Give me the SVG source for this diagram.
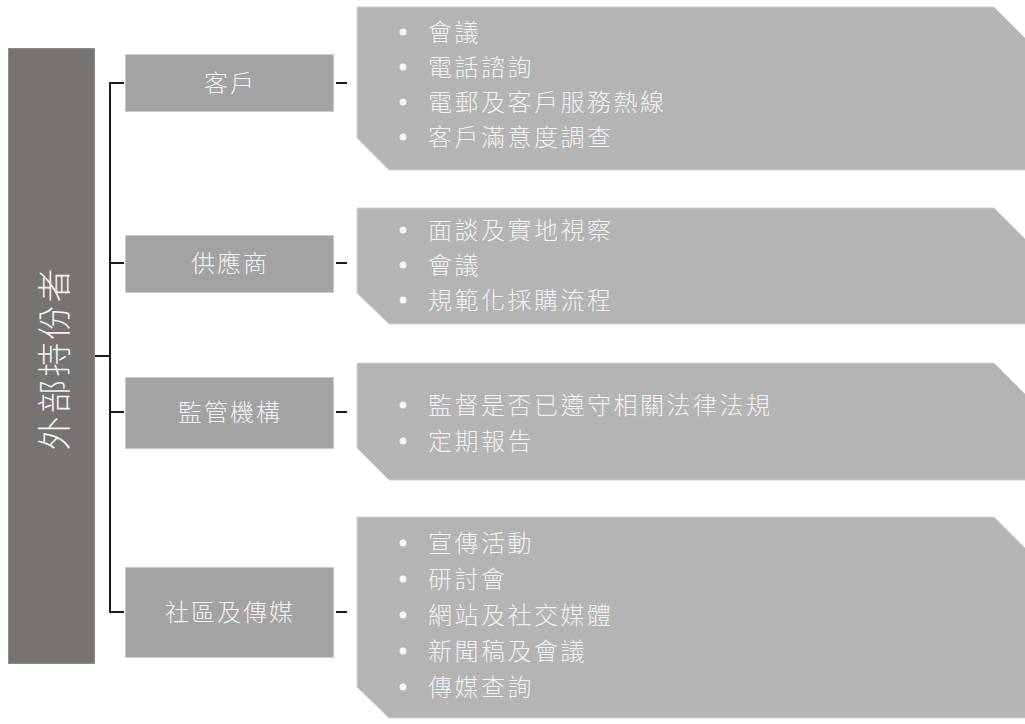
<svg xmlns="http://www.w3.org/2000/svg" width="1025" height="724" viewBox="0 0 1025 724">
<style>
.cat{fill:#a3a3a3;stroke:#cacaca;stroke-width:1}
.panel{fill:#b4b4b4;stroke:#d2d2d2;stroke-width:1}
.lbl{font-family:"Noto Sans CJK TC","Noto Sans CJK SC",sans-serif;fill:#f2f2f2;font-size:24px;letter-spacing:2px;text-anchor:middle;dominant-baseline:central;font-weight:300}
.item{font-family:"Noto Sans CJK TC","Noto Sans CJK SC",sans-serif;fill:#f2f2f2;font-size:24px;letter-spacing:2.5px;dominant-baseline:central;font-weight:300}
.dot{fill:#f5f5f5}
.ln{stroke:#231815;stroke-width:2;fill:none}
</style>
<rect width="1025" height="724" fill="#ffffff"/>
<g id="root">
<rect x="8.5" y="48.5" width="86" height="615" fill="#767371" stroke="#8f8d8c" stroke-width="1"/>
<text class="lbl" transform="translate(52,358) rotate(-90)" style="font-size:34px;letter-spacing:3px">外部持份者</text>
</g>
<g id="connectors">
<path class="ln" d="M95 356H110M124 83H110V612H124M110 263H124M110 412H124"/>
<path class="ln" d="M336 83H347M336 263H347M336 412H347M336 612H347"/>
</g>
<g id="n1">
<rect class="cat" x="125.5" y="54.5" width="208" height="57"/>
<text class="lbl" x="230" y="81">客戶</text>
</g>
<g id="n2">
<rect class="cat" x="125.5" y="235.5" width="208" height="57"/>
<text class="lbl" x="230" y="261">供應商</text>
</g>
<g id="n3">
<rect class="cat" x="125.5" y="377.5" width="208" height="71"/>
<text class="lbl" x="230" y="410">監管機構</text>
</g>
<g id="n4">
<rect class="cat" x="125.5" y="567.5" width="208" height="90"/>
<text class="lbl" x="230" y="610">社區及傳媒</text>
</g>
<g id="p1">
<polygon class="panel" points="357,7 994,7 1060,73 1060,170 389,170 357,138"/>
<circle class="dot" cx="403" cy="32" r="3.5"/><text class="item" x="428" y="30">會議</text>
<circle class="dot" cx="403" cy="67" r="3.5"/><text class="item" x="428" y="65">電話諮詢</text>
<circle class="dot" cx="403" cy="102" r="3.5"/><text class="item" x="428" y="100">電郵及客戶服務熱線</text>
<circle class="dot" cx="403" cy="137" r="3.5"/><text class="item" x="428" y="135">客戶滿意度調查</text>
</g>
<g id="p2">
<polygon class="panel" points="357,208 994,208 1060,274 1060,324 389,324 357,293"/>
<circle class="dot" cx="403" cy="230" r="3.5"/><text class="item" x="428" y="228">面談及實地視察</text>
<circle class="dot" cx="403" cy="265" r="3.5"/><text class="item" x="428" y="263">會議</text>
<circle class="dot" cx="403" cy="300" r="3.5"/><text class="item" x="428" y="298">規範化採購流程</text>
</g>
<g id="p3">
<polygon class="panel" points="357,363 994,363 1060,429 1060,480 389,480 357,448"/>
<circle class="dot" cx="403" cy="405" r="3.5"/><text class="item" x="428" y="403">監督是否已遵守相關法律法規</text>
<circle class="dot" cx="403" cy="441" r="3.5"/><text class="item" x="428" y="439">定期報告</text>
</g>
<g id="p4">
<polygon class="panel" points="357,517 994,517 1060,583 1060,718 389,718 357,687"/>
<circle class="dot" cx="403" cy="543" r="3.5"/><text class="item" x="428" y="541">宣傳活動</text>
<circle class="dot" cx="403" cy="579" r="3.5"/><text class="item" x="428" y="577">研討會</text>
<circle class="dot" cx="403" cy="615" r="3.5"/><text class="item" x="428" y="613">網站及社交媒體</text>
<circle class="dot" cx="403" cy="651" r="3.5"/><text class="item" x="428" y="649">新聞稿及會議</text>
<circle class="dot" cx="403" cy="687" r="3.5"/><text class="item" x="428" y="685">傳媒查詢</text>
</g>
</svg>
